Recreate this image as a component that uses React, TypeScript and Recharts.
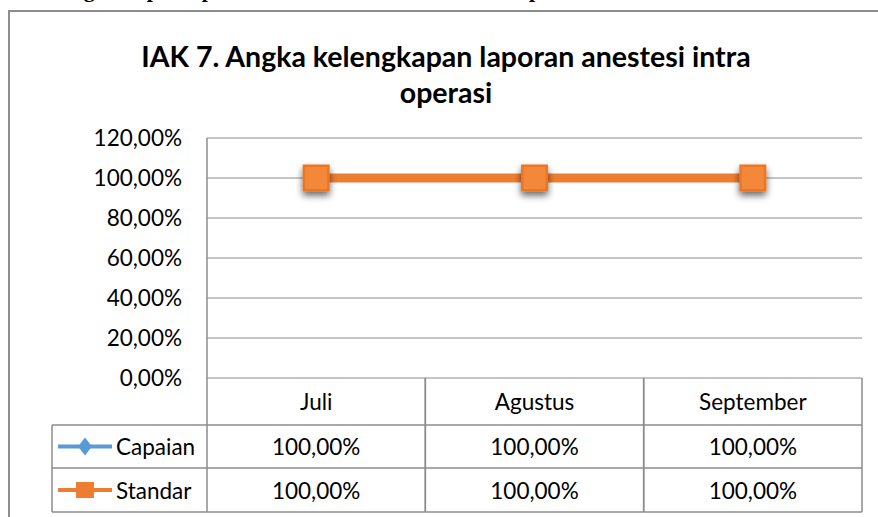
import React from 'react';
import { ComposedChart, Line, XAxis, YAxis, CartesianGrid } from 'recharts';

// ---- data ----
const months = ['Juli', 'Agustus', 'September'];
const capaian = [1, 1, 1];
const standar = [1, 1, 1];
const yTicks = [0, 0.2, 0.4, 0.6, 0.8, 1.0, 1.2];
const seriesNames = ['Capaian', 'Standar'];
const titleLines = ['IAK 7. Angka kelengkapan laporan anestesi intra', 'operasi'];
const headingText = 'Tabel 7 grafik pencapaian indikator mutu klinis IAK 7 periode triwulan III';

const data = months.map((m, i) => ({ month: m, capaian: capaian[i], standar: standar[i] }));

const fmt = (v: number) => (v * 100).toFixed(2).replace('.', ',') + '%';

// ---- layout ----
const W = 878;
const H = 517;
const M = { top: 138, right: 16, bottom: 5, left: 52 };
const YW = 155;
const XH = 134;
const PLOT_W = W - M.left - YW - M.right;
const BAND = PLOT_W / months.length;
const R1 = 47;
const R2 = 90;
const R3 = 134;
const GRID = '#8c8c8c';
const FONT = 'Lato, "Open Sans", sans-serif';
const FS = 22.5;
const BLUE = '#5B9BD5';
const ORANGE = '#ED7D31';

const TableTick = (props: any) => {
  const { x, y, payload } = props;
  const i = typeof props.index === 'number' ? props.index : months.indexOf(payload.value);
  const l = x - BAND / 2;
  const r = x + BAND / 2;
  const ln = { stroke: GRID, strokeWidth: 1.5 };
  const txt = { fontFamily: FONT, fontSize: FS, fill: '#000' } as any;
  const lx = l - YW;
  const legendCx = lx + 33;
  const c1 = y + (R1 + R2) / 2;
  const c2 = y + (R2 + R3) / 2;
  return (
    <g>
      <line x1={l} y1={y} x2={l} y2={y + R3} {...ln} />
      <line x1={r} y1={y} x2={r} y2={y + R3} {...ln} />
      <line x1={l} y1={y + R1} x2={r} y2={y + R1} {...ln} />
      <line x1={l} y1={y + R2} x2={r} y2={y + R2} {...ln} />
      <line x1={l} y1={y + R3} x2={r} y2={y + R3} {...ln} />
      <text x={x} y={y + R1 / 2} textAnchor="middle" dominantBaseline="central" {...txt}>{payload.value}</text>
      <text x={x} y={c1} textAnchor="middle" dominantBaseline="central" {...txt}>{fmt(capaian[i])}</text>
      <text x={x} y={c2} textAnchor="middle" dominantBaseline="central" {...txt}>{fmt(standar[i])}</text>
      {i === 0 && (
        <g>
          <line x1={lx} y1={y + R1} x2={l} y2={y + R1} {...ln} />
          <line x1={lx} y1={y + R2} x2={l} y2={y + R2} {...ln} />
          <line x1={lx} y1={y + R3} x2={l} y2={y + R3} {...ln} />
          <line x1={lx} y1={y + R1} x2={lx} y2={y + R3} {...ln} />
          <line x1={lx + 6} y1={c1} x2={lx + 60} y2={c1} stroke={BLUE} strokeWidth={4} />
          <polygon
            points={`${legendCx},${c1 - 9} ${legendCx + 7},${c1} ${legendCx},${c1 + 9} ${legendCx - 7},${c1}`}
            fill={BLUE}
          />
          <text x={lx + 64} y={c1} dominantBaseline="central" {...txt}>{seriesNames[0]}</text>
          <line x1={lx + 6} y1={c2} x2={lx + 60} y2={c2} stroke={ORANGE} strokeWidth={4} />
          <rect x={legendCx - 9} y={c2 - 8} width={18} height={16} fill={ORANGE} />
          <text x={lx + 64} y={c2} dominantBaseline="central" {...txt}>{seriesNames[1]}</text>
        </g>
      )}
    </g>
  );
};

const DiamondDot = (p: any) => {
  const { cx, cy, index } = p;
  if (cx == null || cy == null) return <g key={`d-${index}`} />;
  return (
    <polygon
      key={`d-${index}`}
      points={`${cx},${cy - 12} ${cx + 10},${cy} ${cx},${cy + 12} ${cx - 10},${cy}`}
      fill={BLUE}
    />
  );
};

const SquareDot = (p: any) => {
  const { cx, cy, index } = p;
  if (cx == null || cy == null) return <g key={`s-${index}`} />;
  const id = `sqsh${index}`;
  return (
    <g key={`s-${index}`}>
      <defs>
        <filter id={id} x="-60%" y="-60%" width="220%" height="220%">
          <feDropShadow dx="0" dy="4" stdDeviation="3.5" floodColor="#000" floodOpacity="0.6" />
        </filter>
      </defs>
      <rect x={cx - 13.5} y={cy - 13.5} width={27} height={27} fill="#EE7422" filter={`url(#${id})`} />
      <rect x={cx - 11} y={cy - 11} width={22} height={22} fill="#F3873A" />
    </g>
  );
};

export default function App() {
  return (
    <div style={{ position: 'absolute', left: 0, top: 0, width: W, height: H, overflow: 'hidden', background: '#fff' }}>
      <div
        style={{
          position: 'absolute',
          left: 10,
          top: -21,
          fontFamily: '"Liberation Serif", "Times New Roman", serif',
          fontWeight: 'bold',
          fontSize: 22,
          lineHeight: '22px',
          whiteSpace: 'nowrap',
          color: '#000',
        }}
      >
        {headingText}
      </div>
      <div
        style={{
          position: 'absolute',
          left: 8,
          top: 10,
          width: 920,
          height: 600,
          borderLeft: '2px solid #8e8e8e',
          borderTop: '2px solid #8e8e8e',
          boxSizing: 'border-box',
        }}
      />
      <div
        style={{
          position: 'absolute',
          left: 0,
          top: 38,
          width: 892,
          textAlign: 'center',
          fontFamily: FONT,
          fontWeight: 'bold',
          fontSize: 28.5,
          lineHeight: '36px',
          color: '#000',
        }}
      >
        {titleLines.map((t) => (
          <div key={t}>{t}</div>
        ))}
      </div>
      <div style={{ position: 'absolute', left: 0, top: 0 }}>
        <ComposedChart width={W} height={H} data={data} margin={M}>
          <CartesianGrid vertical={false} stroke={GRID} strokeWidth={1.2} />
          <XAxis
            dataKey="month"
            height={XH}
            axisLine={false}
            tickLine={false}
            tickSize={0}
            tickMargin={0}
            interval={0}
            padding={{ left: BAND / 2, right: BAND / 2 }}
            tick={<TableTick />}
          />
          <YAxis
            width={YW}
            domain={[0, 1.2]}
            ticks={yTicks}
            tickFormatter={fmt}
            axisLine={{ stroke: GRID, strokeWidth: 1.5 }}
            tickLine={false}
            tickSize={0}
            tickMargin={25}
            tick={{ fontFamily: FONT, fontSize: FS, fill: '#000' }}
          />
          <Line
            dataKey="capaian"
            stroke={BLUE}
            strokeWidth={8}
            dot={DiamondDot}
            activeDot={false}
            isAnimationActive={false}
          />
          <Line
            dataKey="standar"
            stroke={ORANGE}
            strokeWidth={9}
            dot={SquareDot}
            activeDot={false}
            isAnimationActive={false}
          />
        </ComposedChart>
      </div>
    </div>
  );
}
